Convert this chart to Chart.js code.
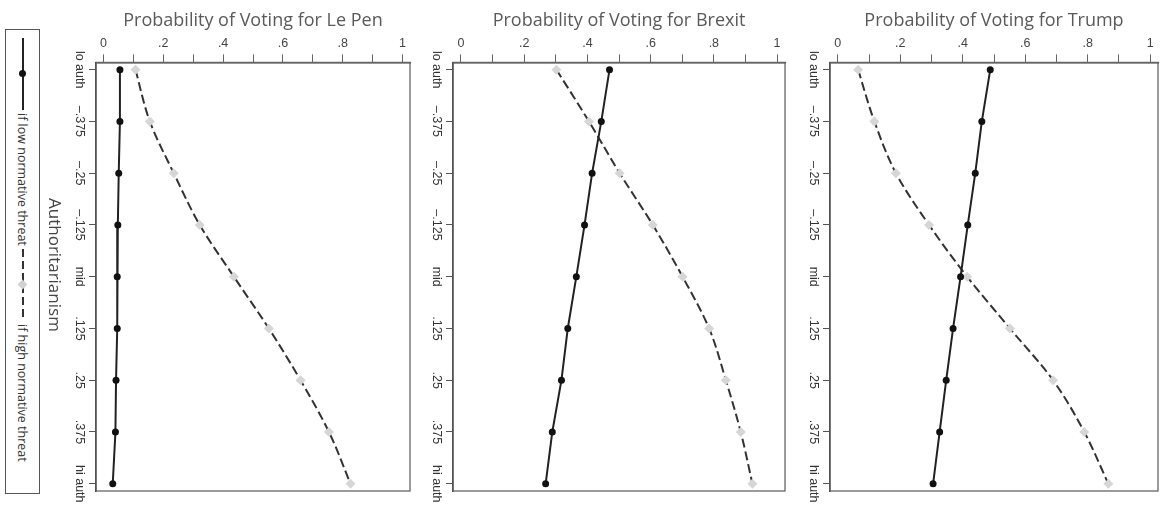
<!DOCTYPE html>
<html>
<head>
<meta charset="utf-8">
<script src="https://cdn.jsdelivr.net/npm/chart.js@4.4.1/dist/chart.umd.min.js"></script>
<style>
  body { margin: 0; background: #fff; width: 1163px; height: 507px; position: relative; overflow: hidden; font-family: "Open Sans", "Liberation Sans", sans-serif; }
  .panel { position: absolute; top: 0; }
  #legend { position: absolute; left: 5px; top: 29px; width: 35px; height: 465px; box-sizing: border-box; border: 1px solid #555; display: flex; flex-direction: column; align-items: center; padding-top: 8px; z-index: 2; }
  .sym { position: relative; width: 9px; height: 72px; flex-shrink: 0; }
  .sym .ln { position: absolute; left: 3.5px; top: 0; width: 2px; height: 100%; }
  .sym .mk { position: absolute; left: 1px; top: 32px; width: 7px; height: 7px; }
  .ltxt { writing-mode: vertical-rl; white-space: nowrap; font-size: 12.5px; color: #333; margin: 3px 0; flex-shrink: 0; }
  #ytitle { position: absolute; left: 44px; top: 198px; writing-mode: vertical-rl; white-space: nowrap; font-size: 17px; color: #444; z-index: 2; }
</style>
</head>
<body>
<div id="legend"></div>
<div id="ytitle">Authoritarianism</div>
<canvas id="lepen" class="panel" width="375" height="507" style="left:40px"></canvas>
<canvas id="brexit" class="panel" width="375" height="507" style="left:415px"></canvas>
<canvas id="trump" class="panel" width="373" height="507" style="left:790px"></canvas>
<script>
// authoritarianism levels, top to bottom
const authLevels = ['lo auth', '–.375', '–.25', '–.125', 'mid', '.125', '.25', '.375', 'hi auth'];
const xTickValues = [0, 0.2, 0.4, 0.6, 0.8, 1];
const xTickLabels = ['0', '.2', '.4', '.6', '.8', '1'];
const seriesNames = ['if low normative threat', 'if high normative threat'];
const panelTitles = ['Probability of Voting for Le Pen', 'Probability of Voting for Brexit', 'Probability of Voting for Trump'];

// probabilities
const lePenLow = [0.055, 0.055, 0.051, 0.048, 0.046, 0.046, 0.042, 0.040, 0.031];
const lePenHigh = [0.107, 0.155, 0.235, 0.322, 0.436, 0.553, 0.659, 0.754, 0.826];
const brexitLow = [0.470, 0.444, 0.415, 0.391, 0.365, 0.338, 0.318, 0.289, 0.268];
const brexitHigh = [0.302, 0.405, 0.502, 0.607, 0.701, 0.785, 0.838, 0.885, 0.922];
const trumpLow = [0.488, 0.461, 0.440, 0.416, 0.393, 0.369, 0.347, 0.326, 0.305];
const trumpHigh = [0.065, 0.117, 0.186, 0.292, 0.414, 0.551, 0.689, 0.789, 0.866];

// box around the plot region
const framePlugin = {
    id: 'frame',
    beforeDatasetsDraw(chart) {
        const { ctx, chartArea: a } = chart;
        ctx.save();
        ctx.strokeStyle = '#666';
        ctx.lineWidth = 1.3;
        ctx.strokeRect(a.left, a.top, a.width, a.height);
        ctx.restore();
    }
};

function makeChart(id, title, low, high, axisWidth, padRight) {
    const ctx = document.getElementById(id).getContext('2d');
    return new Chart(ctx, {
        type: 'line',
        data: {
            datasets: [{
                label: seriesNames[0],
                data: low.map((v, i) => ({ x: v, y: i })),
                borderColor: '#222',
                borderWidth: 2,
                pointRadius: 3.5,
                pointBackgroundColor: '#111',
                pointBorderColor: '#111',
                pointBorderWidth: 0
            }, {
                label: seriesNames[1],
                data: high.map((v, i) => ({ x: v, y: i })),
                borderColor: '#333',
                borderWidth: 2,
                borderDash: [9, 4],
                cubicInterpolationMode: 'monotone',
                pointStyle: 'rectRot',
                pointRadius: 5,
                pointBackgroundColor: '#d6d6d6',
                pointBorderColor: '#d6d6d6',
                pointBorderWidth: 0
            }]
        },
        options: {
            indexAxis: 'y',
            responsive: false,
            animation: false,
            devicePixelRatio: 1,
            layout: { padding: { right: padRight, bottom: 16 } },
            plugins: {
                legend: { display: false },
                tooltip: { enabled: false },
                title: {
                    display: true,
                    text: title,
                    fullSize: false,
                    color: '#5a5a5a',
                    font: { family: 'Open Sans', size: 18, weight: 'normal', lineHeight: 1.1 },
                    padding: { top: 11, bottom: 0 }
                }
            },
            scales: {
                x: {
                    type: 'linear',
                    position: 'top',
                    min: -0.025,
                    max: 1.025,
                    ticks: {
                        stepSize: 0.1,
                        includeBounds: false,
                        autoSkip: false,
                        maxRotation: 0,
                        padding: 3,
                        color: '#444',
                        font: { family: 'Liberation Sans', size: 12.5 },
                        callback: v => {
                            const k = xTickValues.findIndex(t => Math.abs(t - v) < 1e-6);
                            return k < 0 ? '' : xTickLabels[k];
                        }
                    },
                    grid: { drawOnChartArea: false, tickLength: 8, color: '#666' },
                    border: { color: '#333', width: 1.5 },
                    afterFit: s => { s.height = 31.6; }
                },
                y: {
                    type: 'linear',
                    reverse: true,
                    min: -0.14,
                    max: 8.14,
                    ticks: {
                        stepSize: 1,
                        includeBounds: false,
                        autoSkip: false,
                        minRotation: -90,
                        maxRotation: -90,
                        crossAlign: 'center',
                        padding: -9,
                        color: '#333',
                        font: { family: 'Liberation Sans', size: 12.5 },
                        callback: v => authLevels[v]
                    },
                    grid: { drawOnChartArea: false, tickLength: 7, color: '#555' },
                    border: { color: '#333', width: 1.5 },
                    afterFit: s => { s.width = axisWidth; }
                }
            }
        },
        plugins: [framePlugin]
    });
}

makeChart('lepen', panelTitles[0], lePenLow, lePenHigh, 56, 5);
makeChart('brexit', panelTitles[1], brexitLow, brexitHigh, 38, 4);
makeChart('trump', panelTitles[2], trumpLow, trumpHigh, 40, 2);

// rotated legend on the far left
const legend = document.getElementById('legend');
seriesNames.forEach((name, i) => {
    const sym = document.createElement('div');
    sym.className = 'sym';
    const ln = document.createElement('div');
    ln.className = 'ln';
    ln.style.background = i === 0 ? '#222' : 'repeating-linear-gradient(to bottom, #333 0 8px, transparent 8px 12px)';
    const mk = document.createElement('div');
    mk.className = 'mk';
    if (i === 0) {
        mk.style.background = '#111';
        mk.style.borderRadius = '50%';
    } else {
        mk.style.background = '#d2d2d2';
        mk.style.transform = 'rotate(45deg)';
    }
    sym.appendChild(ln);
    sym.appendChild(mk);
    const txt = document.createElement('span');
    txt.className = 'ltxt';
    txt.textContent = name;
    legend.appendChild(sym);
    legend.appendChild(txt);
});
</script>
</body>
</html>
